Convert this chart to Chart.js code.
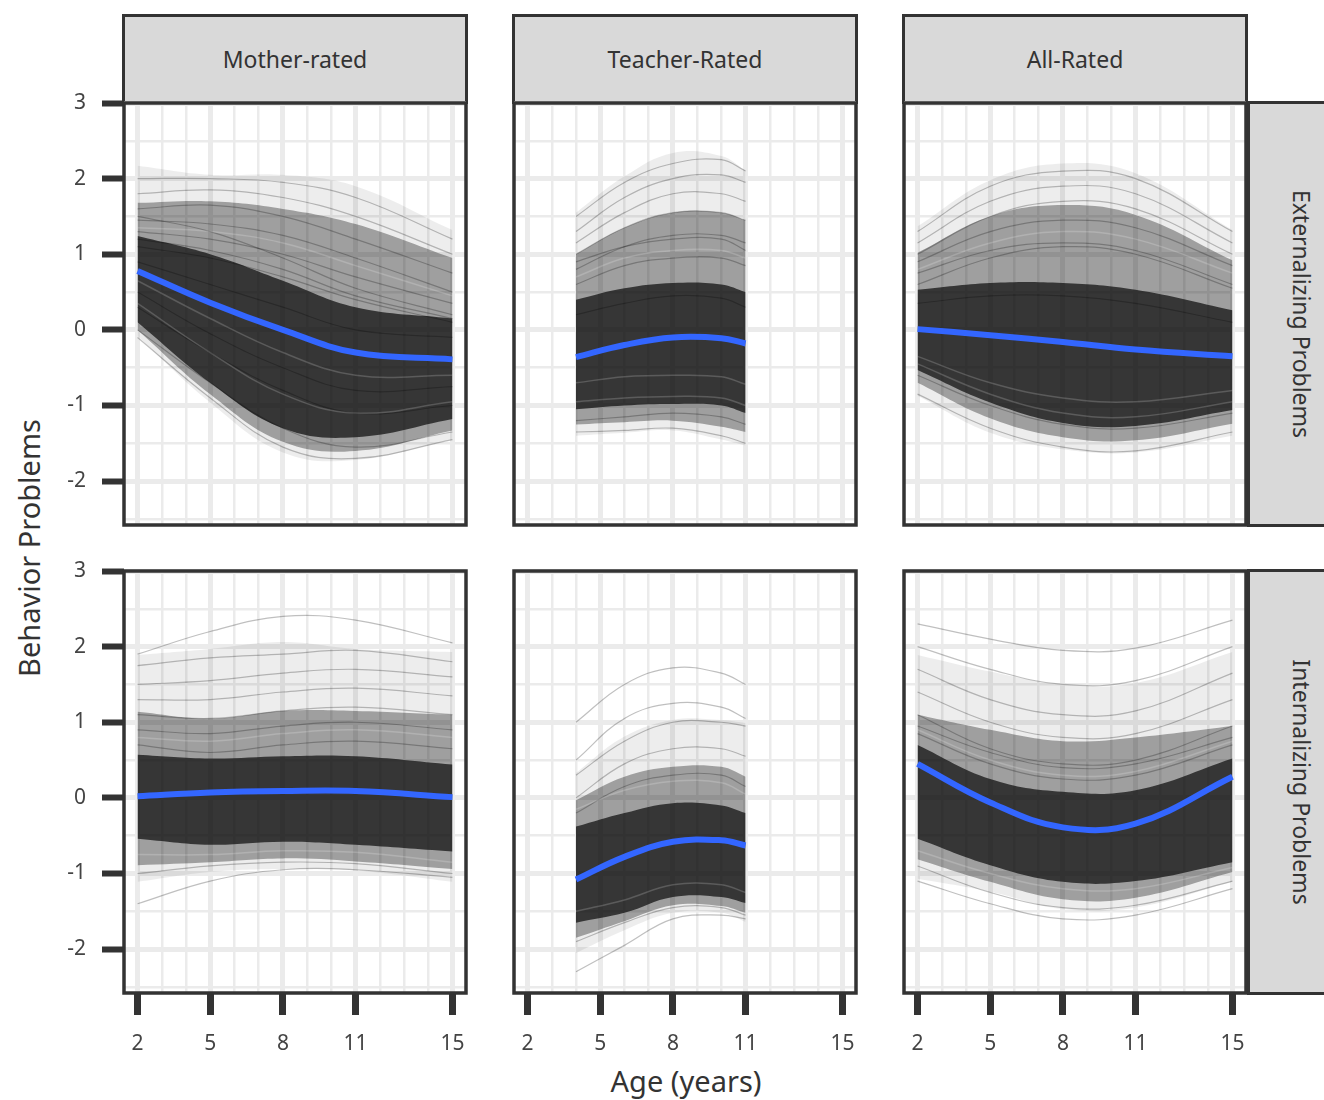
<!DOCTYPE html>
<html>
<head>
<meta charset="utf-8">
<script src="https://cdn.jsdelivr.net/npm/chart.js@4.4.1/dist/chart.umd.min.js"></script>
<style>
  body { margin: 0; background: #fff; width: 1324px; height: 1100px; overflow: hidden; position: relative; font-family: "Noto Sans", sans-serif; color: #333; }
  .strip { position: absolute; background: #d9d9d9; border: 3px solid #333; box-sizing: border-box; display: flex; align-items: center; justify-content: center; font-size: 23px; }
  .strip span { white-space: nowrap; }
  .side span { transform: rotate(90deg); display: inline-block; }
  .panel { position: absolute; }
  .title { position: absolute; font-size: 29px; white-space: nowrap; color: #333; }
</style>
</head>
<body>
<div class="strip" style="left:122px;top:14px;width:346px;height:90px"><span>Mother-rated</span></div>
<div class="strip" style="left:512px;top:14px;width:346px;height:90px"><span>Teacher-Rated</span></div>
<div class="strip" style="left:902px;top:14px;width:346px;height:90px"><span>All-Rated</span></div>
<div class="strip side" style="left:1247px;top:101px;width:110px;height:426px"><span>Externalizing Problems</span></div>
<div class="strip side" style="left:1247px;top:569px;width:110px;height:426px"><span>Internalizing Problems</span></div>
<div class="title" style="left:28px;top:548px;transform:translate(-50%,-50%) rotate(-90deg)">Behavior Problems</div>
<div class="title" style="left:686px;top:1080px;transform:translate(-50%,-50%)">Age (years)</div>

<script>
const agesAll = [2, 5, 8, 11, 15];
const agesTeacher = [4, 6, 8, 10, 11];

// Axis ticks
const xTicks = [2, 3, 4, 5, 6, 7, 8, 9, 10, 11, 12, 13, 14, 15];
const xLabels = [2, 5, 8, 11, 15];
const yTicks = [-2.5, -2, -1.5, -1, -0.5, 0, 0.5, 1, 1.5, 2, 2.5, 3];
const yLabels = [-2, -1, 0, 1, 2, 3];

// Mean trajectories (blue)
const motherExtMean = [0.78, 0.36, 0.0, -0.30, -0.39];
const teacherExtMean = [-0.36, -0.20, -0.10, -0.11, -0.18];
const allExtMean = [0.01, -0.07, -0.16, -0.26, -0.35];
const motherIntMean = [0.02, 0.07, 0.09, 0.09, 0.01];
const teacherIntMean = [-1.08, -0.78, -0.58, -0.56, -0.63];
const allIntMean = [0.45, -0.06, -0.39, -0.34, 0.28];

// Spread of individual trajectories: top, upper, dense top, dense bottom, lower, bottom
const motherExtLevels = [
  [2.17, 2.05, 2.05, 1.90, 1.32],
  [1.68, 1.70, 1.60, 1.40, 0.95],
  [1.24, 1.00, 0.65, 0.30, 0.15],
  [0.10, -0.70, -1.30, -1.42, -1.18],
  [0.00, -0.85, -1.48, -1.60, -1.33],
  [-0.08, -0.96, -1.62, -1.72, -1.45]
];
const teacherExtLevels = [
  [1.55, 2.03, 2.34, 2.30, 2.11],
  [1.00, 1.35, 1.55, 1.55, 1.45],
  [0.40, 0.55, 0.62, 0.60, 0.50],
  [-1.05, -1.00, -0.98, -1.00, -1.10],
  [-1.25, -1.22, -1.20, -1.28, -1.35],
  [-1.40, -1.36, -1.33, -1.45, -1.53]
];
const allExtLevels = [
  [1.37, 1.98, 2.20, 2.07, 1.32],
  [1.02, 1.50, 1.65, 1.52, 0.92],
  [0.53, 0.62, 0.62, 0.53, 0.26],
  [-0.53, -0.96, -1.23, -1.27, -1.06],
  [-0.70, -1.17, -1.42, -1.46, -1.24],
  [-0.87, -1.36, -1.58, -1.62, -1.40]
];
const motherIntLevels = [
  [1.89, 1.97, 2.06, 1.97, 1.93],
  [1.14, 1.05, 1.15, 1.15, 1.10],
  [0.57, 0.52, 0.55, 0.55, 0.44],
  [-0.54, -0.62, -0.58, -0.62, -0.71],
  [-0.89, -0.85, -0.80, -0.84, -0.94],
  [-1.11, -0.98, -0.94, -0.96, -1.11]
];
const teacherIntLevels = [
  [0.33, 0.81, 1.03, 1.03, 0.99],
  [-0.03, 0.28, 0.41, 0.41, 0.28],
  [-0.38, -0.20, -0.07, -0.10, -0.20],
  [-1.65, -1.52, -1.31, -1.31, -1.39],
  [-1.85, -1.63, -1.42, -1.43, -1.52],
  [-2.05, -1.75, -1.52, -1.52, -1.64]
];
const allIntLevels = [
  [1.89, 1.67, 1.50, 1.52, 1.93],
  [1.10, 0.90, 0.75, 0.80, 0.95],
  [0.70, 0.25, 0.08, 0.10, 0.52],
  [-0.54, -0.89, -1.11, -1.10, -0.85],
  [-0.81, -1.11, -1.34, -1.32, -0.98],
  [-1.07, -1.24, -1.47, -1.45, -1.11]
];

// Visible single trajectories (dark strands)
const motherExtStrands = [
  [2.0, 2.0, 1.95, 1.75, 1.2], [1.8, 1.85, 1.75, 1.5, 1.0], [1.6, 1.65, 1.5, 1.2, 0.75],
  [1.45, 1.4, 1.25, 0.95, 0.5], [1.3, 1.2, 1.0, 0.7, 0.35], [1.1, 0.95, 0.7, 0.4, 0.1],
  [1.5, 1.3, 0.95, 0.55, 0.2], [1.2, 1.05, 0.8, 0.45, 0.15], [0.9, 0.6, 0.3, 0.0, -0.1],
  [0.5, -0.05, -0.5, -0.8, -0.75], [0.3, -0.3, -0.8, -1.1, -1.0],
  [0.0, -0.7, -1.3, -1.55, -1.35], [-0.1, -0.9, -1.55, -1.7, -1.45]
];
const teacherExtStrands = [
  [1.5, 1.95, 2.2, 2.25, 2.1], [1.3, 1.75, 2.0, 2.05, 1.95], [1.15, 1.55, 1.8, 1.8, 1.7],
  [1.0, 1.35, 1.55, 1.55, 1.45], [0.8, 1.1, 1.25, 1.25, 1.15], [0.6, 0.85, 0.95, 0.95, 0.85],
  [0.9, 1.1, 1.2, 1.2, 1.05], [0.2, 0.35, 0.45, 0.42, 0.3],
  [-1.2, -1.15, -1.1, -1.15, -1.25], [-1.35, -1.33, -1.3, -1.4, -1.5]
];
const allExtStrands = [
  [1.3, 1.9, 2.1, 2.0, 1.3], [1.15, 1.7, 1.9, 1.8, 1.15], [1.0, 1.5, 1.7, 1.6, 1.0],
  [0.9, 1.3, 1.45, 1.35, 0.85], [0.75, 1.05, 1.15, 1.05, 0.6],
  [0.6, 0.95, 1.1, 1.0, 0.55], [0.35, 0.45, 0.45, 0.35, 0.1],
  [-0.6, -1.0, -1.25, -1.3, -1.1], [-0.85, -1.3, -1.55, -1.6, -1.35]
];
const motherIntStrands = [
  [1.9, 2.2, 2.4, 2.35, 2.05], [1.75, 1.85, 1.9, 1.95, 1.8], [1.5, 1.55, 1.65, 1.7, 1.6],
  [1.3, 1.3, 1.4, 1.45, 1.35], [1.1, 1.05, 1.15, 1.2, 1.1],
  [0.9, 0.85, 0.95, 1.0, 0.9], [0.7, 0.6, 0.7, 0.75, 0.65],
  [-1.0, -0.9, -0.85, -0.87, -1.0], [-1.4, -1.1, -0.95, -0.95, -1.05]
];
const teacherIntStrands = [
  [1.0, 1.5, 1.72, 1.65, 1.5], [0.5, 1.05, 1.25, 1.2, 1.05], [0.3, 0.75, 1.0, 1.0, 0.95],
  [0.0, 0.45, 0.65, 0.65, 0.55], [-0.2, 0.15, 0.3, 0.3, 0.15],
  [-1.9, -1.65, -1.45, -1.45, -1.55], [-2.3, -1.95, -1.6, -1.55, -1.6]
];
const allIntStrands = [
  [2.3, 2.1, 1.95, 1.98, 2.35], [2.0, 1.7, 1.5, 1.55, 2.0], [1.7, 1.3, 1.1, 1.15, 1.65],
  [1.4, 1.0, 0.8, 0.85, 1.3], [1.1, 0.65, 0.45, 0.5, 0.95],
  [0.95, 0.6, 0.4, 0.45, 0.8], [0.85, 0.45, 0.25, 0.3, 0.7],
  [-0.9, -1.25, -1.45, -1.42, -1.1], [-1.1, -1.4, -1.6, -1.55, -1.2]
];

// Lighter gaps between strands inside the dense band
const motherExtGaps = [[1.35, 1.3, 1.15, 0.85, 0.45], [0.65, 0.15, -0.3, -0.6, -0.6], [0.35, -0.3, -0.85, -1.1, -0.95]];
const teacherExtGaps = [[0.7, 0.95, 1.05, 1.05, 0.95], [-0.7, -0.62, -0.6, -0.62, -0.72], [-0.95, -0.9, -0.88, -0.9, -1.0]];
const allExtGaps = [[0.8, 1.15, 1.3, 1.2, 0.75], [-0.35, -0.7, -0.9, -0.95, -0.8], [-0.45, -0.85, -1.1, -1.15, -0.95]];
const motherIntGaps = [[0.8, 0.75, 0.85, 0.9, 0.8], [-0.75, -0.75, -0.7, -0.72, -0.85]];
const teacherIntGaps = [[-0.15, 0.1, 0.22, 0.2, 0.05], [-1.5, -1.35, -1.15, -1.15, -1.25]];
const allIntGaps = [[0.9, 0.5, 0.3, 0.35, 0.75], [-0.7, -1.0, -1.2, -1.2, -0.92]];

const panels = [
  { row: 0, col: 0, ages: agesAll, mean: motherExtMean, levels: motherExtLevels, strands: motherExtStrands, gaps: motherExtGaps },
  { row: 0, col: 1, ages: agesTeacher, mean: teacherExtMean, levels: teacherExtLevels, strands: teacherExtStrands, gaps: teacherExtGaps },
  { row: 0, col: 2, ages: agesAll, mean: allExtMean, levels: allExtLevels, strands: allExtStrands, gaps: allExtGaps },
  { row: 1, col: 0, ages: agesAll, mean: motherIntMean, levels: motherIntLevels, strands: motherIntStrands, gaps: motherIntGaps },
  { row: 1, col: 1, ages: agesTeacher, mean: teacherIntMean, levels: teacherIntLevels, strands: teacherIntStrands, gaps: teacherIntGaps },
  { row: 1, col: 2, ages: agesAll, mean: allIntMean, levels: allIntLevels, strands: allIntStrands, gaps: allIntGaps }
];

const colX = [124, 514, 904];
const rowY = [103, 571];
const PW = 342, PH = 422;
const L = 100, B = 90, T = 14, R = 6;
const bandAlpha = [0.07, 0.33, 0.66];
const font = '"Noto Sans", sans-serif';

const panelBorder = {
  id: 'panelBorder',
  afterDraw(chart) {
    const { ctx, chartArea: a } = chart;
    ctx.save();
    ctx.strokeStyle = '#333';
    ctx.lineWidth = 3.5;
    ctx.strokeRect(a.left, a.top, a.right - a.left, a.bottom - a.top);
    ctx.restore();
  }
};

const pts = (ages, vals) => ages.map((a, i) => ({ x: a, y: vals[i] }));

panels.forEach(p => {
  const showX = p.row === 1;
  const showY = p.col === 0;
  const div = document.createElement('div');
  div.className = 'panel';
  div.style.left = (colX[p.col] - L) + 'px';
  div.style.top = (rowY[p.row] - T) + 'px';
  const canvas = document.createElement('canvas');
  canvas.width = L + PW + R;
  canvas.height = T + PH + B;
  div.appendChild(canvas);
  document.body.appendChild(div);

  // lower "order" is drawn on top
  const datasets = [];
  bandAlpha.forEach((alpha, k) => {
    const idx = datasets.length;
    datasets.push({
      data: pts(p.ages, p.levels[k]), fill: { target: idx + 1 }, order: 10 - k,
      backgroundColor: `rgba(0,0,0,${alpha})`, borderColor: 'rgba(0,0,0,0)', borderWidth: 0,
      pointRadius: 0, tension: 0.4
    });
    datasets.push({
      data: pts(p.ages, p.levels[5 - k]), fill: false, order: 10 - k,
      borderColor: 'rgba(0,0,0,0)', borderWidth: 0, pointRadius: 0, tension: 0.4
    });
  });
  p.strands.forEach(s => {
    datasets.push({
      data: pts(p.ages, s), fill: false, order: 3, borderColor: 'rgba(0,0,0,0.25)',
      borderWidth: 1.2, pointRadius: 0, tension: 0.4
    });
  });
  p.gaps.forEach(s => {
    datasets.push({
      data: pts(p.ages, s), fill: false, order: 2, borderColor: 'rgba(255,255,255,0.18)',
      borderWidth: 1.5, pointRadius: 0, tension: 0.4
    });
  });
  datasets.push({
    data: pts(p.ages, p.mean), fill: false, order: 0, borderColor: '#3366ff',
    borderWidth: 6, pointRadius: 0, tension: 0.4, borderCapStyle: 'butt'
  });

  new Chart(canvas, {
    type: 'line',
    data: { datasets },
    plugins: [panelBorder],
    options: {
      responsive: false,
      animation: false,
      events: [],
      layout: { padding: { top: T, right: R, left: 0, bottom: 0 } },
      plugins: { legend: { display: false }, tooltip: { enabled: false } },
      scales: {
        x: {
          type: 'linear', min: 1.44, max: 15.56,
          afterBuildTicks: s => { s.ticks = xTicks.map(v => ({ value: v })); },
          afterFit: s => { s.height = B; s.paddingLeft = 0; s.paddingRight = 0; },
          border: { display: false },
          grid: {
            color: '#ebebeb',
            lineWidth: c => (c.tick && xLabels.includes(c.tick.value)) ? 5 : 2.5,
            drawTicks: true, tickLength: 22, tickWidth: 7,
            tickColor: c => (showX && c.tick && xLabels.includes(c.tick.value)) ? '#333' : 'rgba(0,0,0,0)'
          },
          ticks: {
            display: showX, autoSkip: false, maxRotation: 0, padding: 16, color: '#444',
            font: { size: 21, family: font },
            callback: v => xLabels.includes(v) ? String(v) : ''
          }
        },
        y: {
          type: 'linear', min: -2.58, max: 3.0,
          afterBuildTicks: s => { s.ticks = yTicks.map(v => ({ value: v })); },
          afterFit: s => { s.width = L; s.paddingTop = 0; s.paddingBottom = 0; },
          border: { display: false },
          grid: {
            color: '#ebebeb',
            lineWidth: c => (c.tick && yLabels.includes(c.tick.value)) ? 5 : 2.5,
            drawTicks: true, tickLength: 22, tickWidth: 6,
            tickColor: c => (showY && c.tick && yLabels.includes(c.tick.value)) ? '#333' : 'rgba(0,0,0,0)'
          },
          ticks: {
            display: showY, autoSkip: false, padding: 16, color: '#444',
            font: { size: 21, family: font },
            callback: v => yLabels.includes(v) ? String(v) : ''
          }
        }
      }
    }
  });
});
</script>
</body>
</html>
